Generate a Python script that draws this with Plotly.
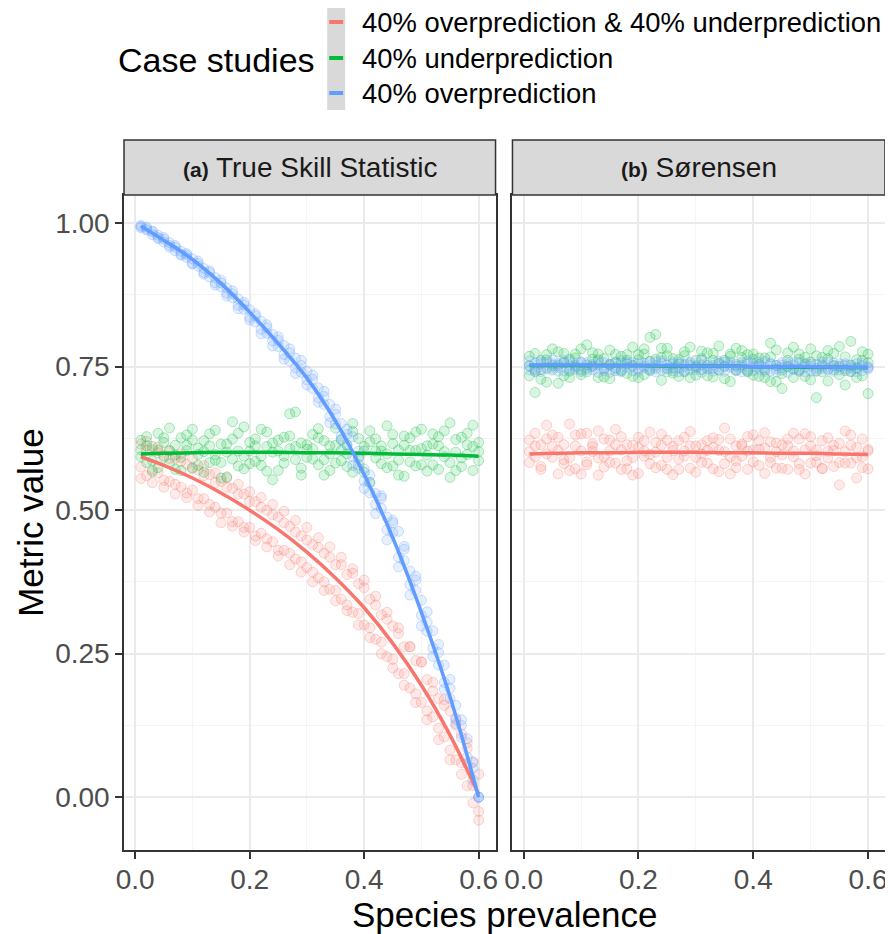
import plotly.graph_objects as go

# ---------------- data ----------------
CASES = ["40% overprediction & 40% underprediction", "40% underprediction", "40% overprediction"]
CASE_COLORS = ["#F8766D", "#00BA38", "#619CFF"]
PANEL_TAGS = ["(a)", "(b)"]
PANEL_NAMES = ["True Skill Statistic", "Sørensen"]

PREV = [0.01, 0.02, 0.03, 0.04, 0.05, 0.06, 0.07, 0.08, 0.09, 0.10,
        0.11, 0.12, 0.13, 0.14, 0.15, 0.16, 0.17, 0.18, 0.19, 0.20,
        0.21, 0.22, 0.23, 0.24, 0.25, 0.26, 0.27, 0.28, 0.29, 0.30,
        0.31, 0.32, 0.33, 0.34, 0.35, 0.36, 0.37, 0.38, 0.39, 0.40,
        0.41, 0.42, 0.43, 0.44, 0.45, 0.46, 0.47, 0.48, 0.49, 0.50,
        0.51, 0.52, 0.53, 0.54, 0.55, 0.56, 0.57, 0.58, 0.59, 0.60]

# (a) True Skill Statistic - simulated points (three replicate sets)
TSS_BOTH_1 = [.615, .605, .570, .600, .552, .590, .545, .585, .530, .572,
              .520, .560, .510, .548, .495, .540, .480, .528, .470, .515,
              .455, .505, .450, .492, .430, .478, .425, .462, .410, .448,
              .392, .435, .375, .418, .360, .405, .335, .390, .320, .365,
              .295, .335, .270, .310, .240, .285, .215, .262, .180, .235,
              .150, .185, .120, .160, .082, .135, .060, .085, .020, .040]
TSS_BOTH_2 = [.575, .560, .605, .565, .595, .550, .590, .540, .580, .535,
              .570, .520, .562, .505, .550, .495, .538, .480, .528, .470,
              .515, .460, .500, .445, .488, .430, .472, .415, .455, .400,
              .440, .382, .425, .362, .405, .345, .388, .322, .372, .300,
              .345, .275, .318, .245, .298, .215, .262, .190, .238, .165,
              .205, .140, .172, .105, .150, .065, .110, .020, .060, -.040]
TSS_BOTH_3 = [.555, .620, .548, .610, .540, .603, .528, .598, .522, .590,
              .508, .578, .497, .565, .478, .556, .472, .545, .462, .532,
              .447, .522, .436, .510, .420, .498, .405, .482, .392, .470,
              .375, .452, .360, .436, .342, .418, .325, .398, .300, .378,
              .278, .350, .250, .322, .225, .295, .195, .262, .165, .236,
              .135, .200, .100, .170, .065, .125, .040, .095, -.010, -.025]
TSS_UNDER_1 = [.622, .583, .611, .634, .592, .604, .571, .626, .613, .641,
               .578, .602, .633, .587, .615, .558, .624, .603, .645, .581,
               .612, .594, .636, .601, .569, .627, .668, .588, .617, .606,
               .632, .579, .621, .598, .643, .586, .614, .566, .625, .603,
               .638, .591, .612, .647, .577, .605, .629, .584, .636, .607,
               .568, .615, .628, .593, .652, .601, .576, .634, .611, .602]
TSS_UNDER_2 = [.593, .612, .567, .604, .626, .581, .613, .592, .631, .574,
               .608, .621, .583, .597, .556, .615, .589, .634, .572, .603,
               .624, .578, .611, .553, .622, .594, .607, .671, .573, .614,
               .589, .626, .561, .612, .582, .623, .598, .637, .579, .611,
               .548, .624, .603, .574, .616, .587, .559, .626, .604, .579,
               .612, .633, .571, .602, .557, .623, .591, .614, .569, .586]
TSS_UNDER_3 = [.605, .628, .586, .574, .618, .643, .596, .569, .604, .622,
               .597, .566, .612, .639, .583, .601, .654, .577, .594, .618,
               .585, .641, .568, .617, .603, .582, .629, .611, .561, .592,
               .607, .642, .588, .569, .613, .604, .576, .651, .593, .566,
               .619, .603, .581, .598, .632, .561, .613, .604, .577, .641,
               .596, .579, .612, .638, .583, .569, .627, .597, .648, .618]
TSS_OVER_1 = [.996, .990, .985, .975, .972, .961, .958, .951, .940, .938,
              .925, .921, .906, .905, .889, .887, .870, .868, .850, .849,
              .828, .829, .808, .806, .785, .787, .760, .765, .740, .742,
              .712, .713, .684, .684, .650, .651, .612, .628, .590, .572,
              .548, .529, .525, .488, .482, .463, .437, .394, .385, .343,
              .305, .290, .252, .230, .190, .160, .125, .102, .050, .000]
TSS_OVER_2 = [.994, .988, .980, .979, .967, .966, .952, .946, .944, .930,
              .930, .914, .914, .896, .896, .878, .877, .857, .858, .836,
              .838, .815, .818, .795, .796, .771, .774, .748, .752, .727,
              .728, .696, .698, .663, .667, .629, .632, .593, .573, .551,
              .530, .510, .503, .466, .461, .418, .412, .370, .360, .317,
              .289, .260, .230, .200, .172, .138, .104, .070, .030, .000]
TSS_OVER_3 = [.992, .993, .986, .973, .975, .958, .961, .944, .947, .929,
              .934, .911, .917, .892, .901, .873, .882, .851, .862, .831,
              .842, .807, .823, .786, .802, .763, .781, .738, .761, .718,
              .735, .688, .707, .652, .676, .622, .641, .578, .603, .538,
              .561, .494, .521, .448, .478, .401, .432, .352, .378, .298,
              .323, .245, .266, .188, .205, .128, .135, .058, .062, .000]

# (b) Sorensen - simulated points
SOR_BOTH_1 = [.622, .593, .614, .648, .631, .604, .581, .650, .612, .563,
              .634, .602, .591, .624, .583, .641, .605, .572, .613, .627,
              .594, .636, .601, .578, .622, .611, .571, .603, .637, .592,
              .614, .582, .626, .604, .643, .593, .574, .612, .628, .584,
              .606, .635, .592, .617, .573, .624, .603, .581, .633, .612,
              .595, .572, .626, .604, .583, .638, .613, .591, .624, .606]
SOR_BOTH_2 = [.583, .612, .571, .624, .592, .563, .614, .591, .572, .633,
              .584, .611, .561, .593, .622, .582, .571, .614, .592, .564,
              .603, .581, .574, .613, .592, .562, .621, .594, .573, .612,
              .583, .604, .572, .623, .581, .563, .612, .594, .571, .605,
              .621, .564, .583, .602, .614, .571, .593, .624, .563, .582,
              .605, .573, .591, .613, .544, .602, .582, .556, .593, .572]
SOR_BOTH_3 = [.602, .634, .576, .598, .611, .627, .588, .569, .631, .603,
              .579, .616, .638, .575, .603, .614, .628, .586, .561, .609,
              .621, .597, .618, .632, .571, .604, .589, .627, .612, .566,
              .598, .621, .609, .567, .602, .624, .586, .615, .603, .631,
              .578, .608, .619, .573, .596, .612, .634, .571, .605, .628,
              .583, .621, .603, .576, .616, .582, .631, .609, .574, .603]
SOR_UNDER_1 = [.768, .742, .761, .723, .781, .752, .734, .763, .772, .744,
               .788, .751, .731, .764, .779, .743, .756, .771, .733, .762,
               .781, .801, .806, .726, .769, .748, .762, .741, .784, .735,
               .764, .752, .773, .744, .761, .724, .782, .753, .741, .772,
               .733, .765, .791, .752, .744, .774, .731, .763, .754, .781,
               .742, .766, .725, .773, .751, .743, .794, .762, .734, .757]
SOR_UNDER_2 = [.734, .705, .745, .771, .752, .721, .773, .742, .765, .736,
               .753, .774, .762, .732, .754, .771, .743, .761, .784, .731,
               .772, .744, .763, .782, .741, .764, .733, .776, .752, .761,
               .745, .774, .732, .786, .751, .772, .743, .766, .771, .735,
               .765, .744, .724, .724, .712, .751, .784, .742, .766, .727,
               .696, .753, .764, .745, .785, .718, .752, .731, .776, .703]
SOR_UNDER_3 = [.751, .773, .728, .762, .744, .776, .758, .731, .749, .781,
               .741, .763, .772, .746, .729, .757, .768, .738, .752, .771,
               .736, .759, .747, .766, .782, .739, .754, .769, .731, .748,
               .777, .734, .761, .756, .729, .768, .751, .778, .742, .763,
               .754, .731, .767, .779, .738, .761, .746, .772, .733, .758,
               .769, .741, .778, .752, .736, .767, .741, .748, .761, .772]
SOR_OVER_1 = [.760, .745, .755, .748, .762, .742, .756, .751, .745, .758,
              .748, .754, .740, .757, .752, .746, .760, .749, .743, .756,
              .751, .747, .759, .744, .753, .757, .748, .742, .755, .750,
              .761, .746, .752, .744, .758, .749, .754, .741, .756, .750,
              .746, .759, .743, .752, .748, .755, .745, .757, .749, .742,
              .754, .751, .746, .756, .744, .752, .748, .755, .743, .750]
SOR_OVER_2 = [.744, .756, .741, .758, .748, .755, .743, .760, .752, .741,
              .757, .745, .753, .747, .740, .758, .744, .755, .757, .742,
              .748, .759, .741, .756, .746, .743, .757, .754, .744, .752,
              .740, .756, .747, .759, .742, .753, .745, .757, .744, .755,
              .758, .741, .754, .746, .757, .740, .753, .744, .756, .751,
              .743, .747, .758, .742, .755, .746, .753, .741, .756, .748]
SOR_OVER_3 = [.752, .741, .758, .746, .755, .749, .761, .744, .753, .757,
              .745, .750, .759, .743, .754, .748, .741, .757, .751, .746,
              .756, .743, .752, .760, .747, .754, .741, .750, .758, .745,
              .753, .747, .742, .755, .750, .758, .744, .749, .760, .743,
              .751, .748, .756, .741, .753, .749, .757, .745, .741, .754,
              .747, .758, .744, .751, .749, .755, .742, .747, .752, .746]

# smoothed fits
FIT_X = [0.01, 0.05, 0.10, 0.15, 0.20, 0.25, 0.30, 0.35, 0.40, 0.45, 0.50, 0.55, 0.60]
TSS_FIT_BOTH = [.593, .578, .556, .530, .500, .466, .427, .382, .330, .268, .195, .108, .005]
TSS_FIT_UNDER = [.598, .599, .600, .601, .601, .601, .600, .600, .599, .598, .597, .596, .594]
TSS_FIT_OVER = [.995, .970, .937, .895, .845, .790, .730, .655, .562, .452, .322, .175, .000]
SOR_FIT_BOTH = [.598, .599, .600, .600, .601, .601, .601, .600, .600, .599, .599, .598, .597]
SOR_FIT_UNDER = [.752, .752, .752, .752, .752, .751, .751, .751, .750, .750, .749, .749, .748]
SOR_FIT_OVER = [.753, .753, .753, .752, .752, .752, .751, .751, .750, .750, .750, .749, .749]

X_TICKS = [0.0, 0.2, 0.4, 0.6]
X_TICK_LABELS = ["0.0", "0.2", "0.4", "0.6"]
Y_TICKS = [0.0, 0.25, 0.50, 0.75, 1.00]
Y_TICK_LABELS = ["0.00", "0.25", "0.50", "0.75", "1.00"]

POINTS = [
    [(TSS_BOTH_1, TSS_BOTH_2, TSS_BOTH_3), (TSS_UNDER_1, TSS_UNDER_2, TSS_UNDER_3),
     (TSS_OVER_1, TSS_OVER_2, TSS_OVER_3)],
    [(SOR_BOTH_1, SOR_BOTH_2, SOR_BOTH_3), (SOR_UNDER_1, SOR_UNDER_2, SOR_UNDER_3),
     (SOR_OVER_1, SOR_OVER_2, SOR_OVER_3)],
]
FITS = [
    [TSS_FIT_BOTH, TSS_FIT_UNDER, TSS_FIT_OVER],
    [SOR_FIT_BOTH, SOR_FIT_UNDER, SOR_FIT_OVER],
]

# ---------------- figure ----------------
FONT = "Liberation Sans, Arial, Helvetica, sans-serif"
# The page body adds an 8px offset, so the figure is 8px smaller than the window.
OFF = 8
W, H = 893 - OFF, 934 - OFF
# plot area in window pixels: x 124..888, y 195..850
PL, PR, PT, PB = 124, 888, 195, 850
ML, MT = PL - OFF, PT - OFF
MR, MB = (W + OFF) - PR, (H + OFF) - PB
PW, PH = PR - PL, PB - PT


def px_x(p):
    return (p - PL) / PW


def px_y(p):
    return (PB - p) / PH


def rgba(hexc, a):
    h = hexc.lstrip("#")
    return "rgba(%d,%d,%d,%.3f)" % (int(h[0:2], 16), int(h[2:4], 16), int(h[4:6], 16), a)


fig = go.Figure()
axes = [("x", "y"), ("x2", "y2")]
for p in range(2):
    xa, ya = axes[p]
    for c in range(3):
        ys = POINTS[p][c]
        xs = []
        yy = []
        for s in ys:
            xs += PREV
            yy += s
        fig.add_trace(go.Scatter(
            x=xs, y=yy, mode="markers", xaxis=xa, yaxis=ya,
            marker=dict(size=10, color=rgba(CASE_COLORS[c], 0.15),
                        line=dict(width=1, color=rgba(CASE_COLORS[c], 0.30))),
            showlegend=False, hoverinfo="skip"))
for p in range(2):
    xa, ya = axes[p]
    for c in range(3):
        fig.add_trace(go.Scatter(
            x=FIT_X, y=FITS[p][c], mode="lines", xaxis=xa, yaxis=ya,
            line=dict(color=CASE_COLORS[c], width=3.5, shape="spline"),
            showlegend=False, hoverinfo="skip"))

dom_a = [0, px_x(497)]
dom_b = [px_x(514), 1]

xcommon = dict(range=[-0.0195, 0.6295], tickvals=X_TICKS, ticktext=X_TICK_LABELS,
               ticks="outside", ticklen=7, tickwidth=1.5, tickcolor="#333333",
               tickfont=dict(size=28, color="#4D4D4D", family=FONT), ticklabelstandoff=-3,
               showline=True, mirror=True, linecolor="#333333", linewidth=1.5,
               showgrid=True, gridcolor="#EBEBEB", gridwidth=1.5, zeroline=False,
               minor=dict(tickvals=[0.1, 0.3, 0.5], showgrid=True, gridcolor="#F4F4F4", gridwidth=1))
ycommon = dict(range=[-0.092, 1.049], tickvals=Y_TICKS, ticktext=Y_TICK_LABELS,
               showline=True, mirror=True, linecolor="#333333", linewidth=1.5,
               showgrid=True, gridcolor="#EBEBEB", gridwidth=1.5, zeroline=False,
               minor=dict(tickvals=[0.125, 0.375, 0.625, 0.875], showgrid=True,
                          gridcolor="#F4F4F4", gridwidth=1),
               domain=[0, 1])

fig.update_layout(
    width=W, height=H, margin=dict(l=ML, r=MR, t=MT, b=MB, pad=0),
    plot_bgcolor="white", paper_bgcolor="white", showlegend=False,
    font=dict(family=FONT, color="#000000"),
    xaxis=dict(domain=dom_a, anchor="y", **xcommon),
    xaxis2=dict(domain=dom_b, anchor="y2", **xcommon),
    yaxis=dict(anchor="x", ticks="outside", ticklen=7, tickwidth=1.5, tickcolor="#333333",
               tickfont=dict(size=28, color="#4D4D4D", family=FONT), **ycommon),
    yaxis2=dict(anchor="x2", matches="y", showticklabels=False, ticks="", **ycommon),
)

shapes = []
annotations = []
# strips
strip_top = px_y(140)
for p, dom in enumerate([dom_a, dom_b]):
    shapes.append(dict(type="rect", xref="paper", yref="paper", x0=dom[0], x1=dom[1],
                       y0=1, y1=strip_top, fillcolor="#D9D9D9",
                       line=dict(color="#333333", width=1.5), layer="above"))
    annotations.append(dict(
        xref="paper", yref="paper", x=(dom[0] + dom[1]) / 2, y=(1 + strip_top) / 2,
        xanchor="center", yanchor="middle", showarrow=False,
        text="<span style='font-size:21px'><b>%s</b></span> %s" % (PANEL_TAGS[p], PANEL_NAMES[p]),
        font=dict(size=28, color="#1A1A1A", family=FONT)))

# axis titles
annotations.append(dict(xref="paper", yref="paper", x=0.5 * (dom_a[0] + dom_b[1]), y=px_y(914),
                        xanchor="center", yanchor="middle", showarrow=False,
                        text="Species prevalence", font=dict(size=35, color="#000000", family=FONT)))
annotations.append(dict(xref="paper", yref="paper", x=px_x(30), y=0.5,
                        xanchor="center", yanchor="middle", showarrow=False, textangle=-90,
                        text="Metric value", font=dict(size=35, color="#000000", family=FONT)))

# legend (drawn manually, ggplot style)
annotations.append(dict(xref="paper", yref="paper", x=px_x(318), y=px_y(60),
                        xanchor="right", yanchor="middle", showarrow=False,
                        text="Case studies", font=dict(size=34, color="#000000", family=FONT)))
shapes.append(dict(type="rect", xref="paper", yref="paper", x0=px_x(328), x1=px_x(346),
                   y0=px_y(110), y1=px_y(3), fillcolor="#D9D9D9", line=dict(width=0)))
rows = [22, 58, 93]
for c in range(3):
    shapes.append(dict(type="line", xref="paper", yref="paper", x0=px_x(330), x1=px_x(344),
                       y0=px_y(rows[c]), y1=px_y(rows[c]),
                       line=dict(color=CASE_COLORS[c], width=4)))
    annotations.append(dict(xref="paper", yref="paper", x=px_x(361), y=px_y(rows[c]),
                            xanchor="left", yanchor="middle", showarrow=False,
                            text=CASES[c], font=dict(size=27.4, color="#000000", family=FONT)))

fig.update_layout(shapes=shapes, annotations=annotations)
fig.write_html("out.html")
